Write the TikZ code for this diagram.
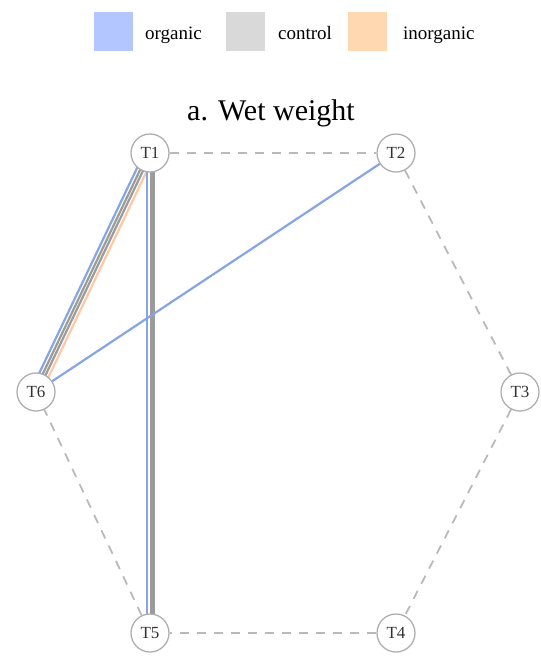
\documentclass[tikz,border=0pt]{standalone}
\usepackage{fontspec}
\setmainfont{Liberation Serif}
\usepackage{xcolor}
\definecolor{orgfill}{RGB}{179,198,255}
\definecolor{ctlfill}{RGB}{217,217,217}
\definecolor{inofill}{RGB}{255,216,178}
\definecolor{orgline}{RGB}{135,165,228}
\definecolor{ctlline}{RGB}{155,155,155}
\definecolor{inoline}{RGB}{255,200,165}
\definecolor{ringgray}{RGB}{175,175,175}
\definecolor{dashgray}{RGB}{185,185,185}
\usetikzlibrary{positioning, backgrounds}

\tikzset{
  tnode/.style={circle, draw=ringgray, line width=1.3pt, fill=white, minimum size=38pt,
                inner sep=0pt, font=\fontsize{17}{19}\selectfont, text=black!80},
  ring/.style={dashgray, line width=1.8pt, dash pattern=on 9pt off 8pt},
  link/.style={line width=2.2pt},
  swatch/.style={minimum size=39pt, inner sep=0pt},
  legtext/.style={font=\fontsize{19}{22}\selectfont, anchor=base west, inner sep=0pt}
}

\begin{document}
\begin{tikzpicture}[x=1pt, y=-1pt]
\useasboundingbox (0,0) rectangle (541,657);

% --- legend ---
\node[swatch, fill=orgfill] (sw-org) at (113.5,31.5) {};
\node[legtext] (lg-org) at (145,39) {organic};
\node[swatch, fill=ctlfill] (sw-ctl) at (245.5,31.5) {};
\node[legtext] (lg-ctl) at (278,39) {control};
\node[swatch, fill=inofill] (sw-ino) at (367.5,31.5) {};
\node[legtext] (lg-ino) at (403,39) {inorganic};

% --- title ---
\node[font=\fontsize{30}{34}\selectfont] (title) at (271,113) {a. Wet weight};

% --- treatments ---
\node[tnode] (t1) at (150,153) {T1};
\node[tnode] (t2) at (396,153) {T2};
\node[tnode] (t3) at (520,392) {T3};
\node[tnode] (t4) at (396,633) {T4};
\node[tnode] (t5) at (150,633) {T5};
\node[tnode] (t6) at (36,392) {T6};

\begin{scope}[on background layer]
% dashed ring
\draw[ring] (t1) -- (t2);
\draw[ring] (t2) -- (t3);
\draw[ring] (t3) -- (t4);
\draw[ring] (t4) -- (t5);
\draw[ring] (t5) -- (t6);

% T1 -- T6 bundle
\draw[link, orgline, transform canvas={xshift=-4.7pt, yshift=2.25pt}] (t1.center) -- (t6.center);
\draw[link, ctlline, transform canvas={xshift=-1.5pt, yshift=0.72pt}] (t1.center) -- (t6.center);
\draw[link, ctlline, transform canvas={xshift=1.2pt, yshift=-0.57pt}] (t1.center) -- (t6.center);
\draw[link, inoline, transform canvas={xshift=4.4pt, yshift=-2.1pt}] (t1.center) -- (t6.center);

% T1 -- T5 bundle
\draw[link, orgline, transform canvas={xshift=-3pt}] (t1.center) -- (t5.center);
\draw[link, ctlline, transform canvas={xshift=0.9pt}] (t1.center) -- (t5.center);
\draw[link, ctlline, transform canvas={xshift=3.4pt}] (t1.center) -- (t5.center);

% T6 -- T2
\draw[link, orgline] (t6.center) -- (t2.center);
\end{scope}

\end{tikzpicture}
\end{document}
